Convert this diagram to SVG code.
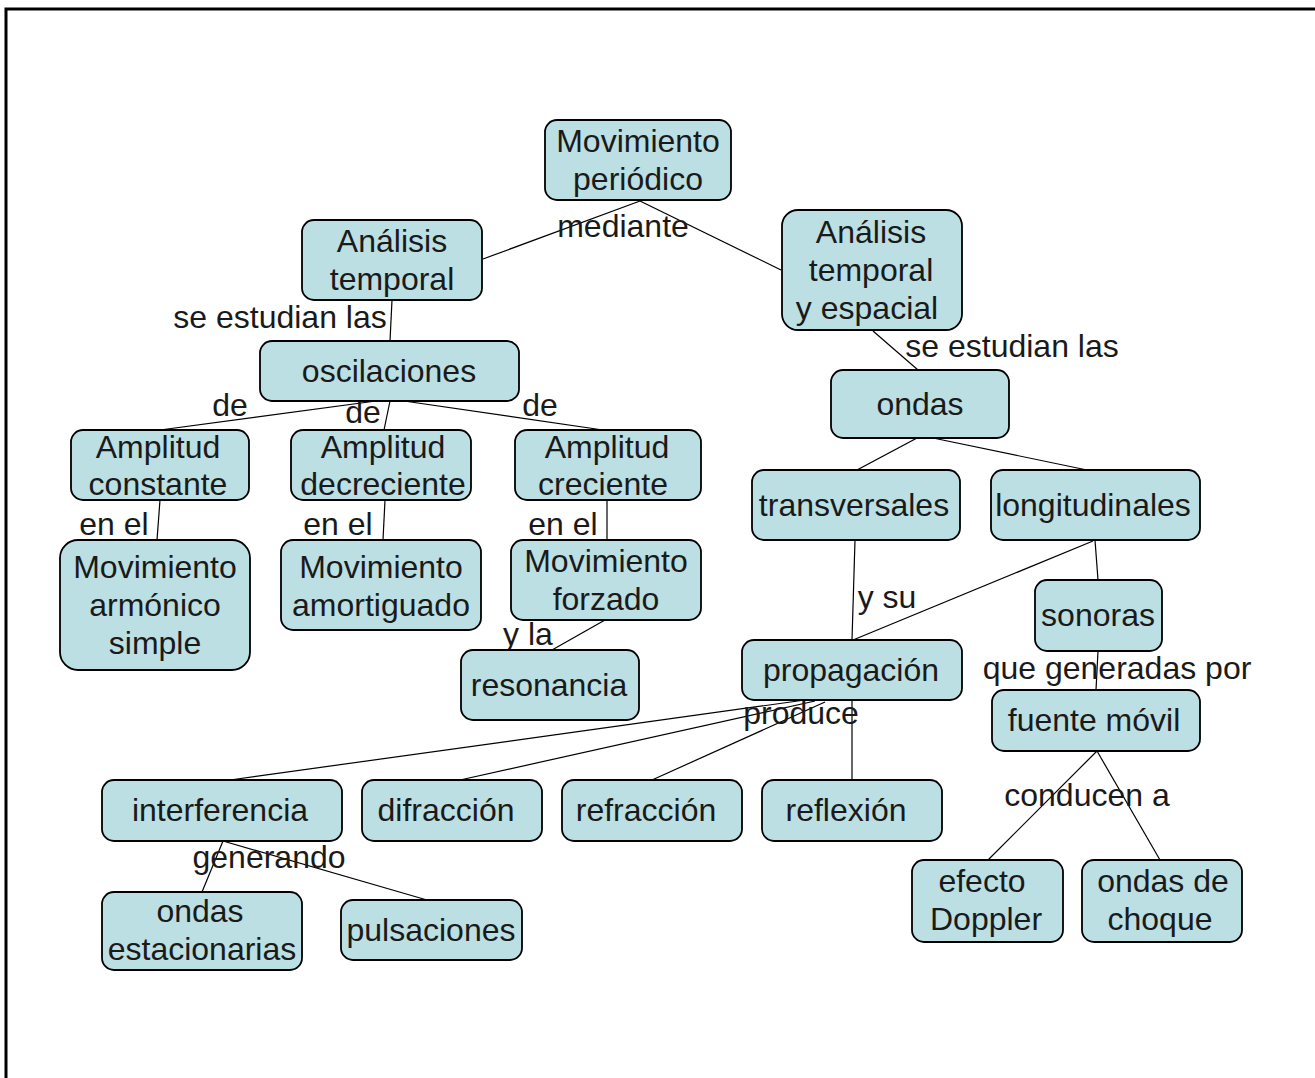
<svg xmlns="http://www.w3.org/2000/svg" width="1315" height="1078" viewBox="0 0 1315 1078">
<style>
.n rect{fill:#bbdfe2;stroke:#000;stroke-width:1.8}
text{font-family:"Liberation Sans",Arial,sans-serif;font-size:32px;fill:#1a1a1a;text-anchor:middle}
#links line{stroke:#000;stroke-width:1.2}
</style>
<rect width="1315" height="1078" fill="#fff"/>
<path d="M6 1078 V9 H1315" fill="none" stroke="#000" stroke-width="3"/>
<g id="links">
<line x1="640" y1="201" x2="483" y2="259"/>
<line x1="640" y1="201" x2="781" y2="270"/>
<line x1="392" y1="300" x2="390" y2="341"/>
<line x1="873" y1="331" x2="918" y2="370"/>
<line x1="376" y1="401" x2="160" y2="430"/>
<line x1="390" y1="401" x2="384" y2="430"/>
<line x1="404" y1="401" x2="603" y2="430"/>
<line x1="160" y1="500" x2="157" y2="540"/>
<line x1="385" y1="500" x2="383" y2="540"/>
<line x1="607" y1="500" x2="607" y2="540"/>
<line x1="605" y1="620" x2="552" y2="650"/>
<line x1="917" y1="438" x2="857" y2="470"/>
<line x1="933" y1="438" x2="1087" y2="470"/>
<line x1="855" y1="540" x2="852" y2="640"/>
<line x1="1093" y1="541" x2="853" y2="640"/>
<line x1="1095" y1="540" x2="1098" y2="580"/>
<line x1="1098" y1="651" x2="1096" y2="690"/>
<line x1="1097" y1="751" x2="988" y2="860"/>
<line x1="1097" y1="751" x2="1160" y2="860"/>
<line x1="805" y1="700" x2="230" y2="780"/>
<line x1="815" y1="701" x2="460" y2="780"/>
<line x1="825" y1="702" x2="652" y2="780"/>
<line x1="852" y1="700" x2="852" y2="780"/>
<line x1="223" y1="841" x2="202" y2="892"/>
<line x1="223" y1="841" x2="427" y2="900"/>
</g>
<g id="labels">
<text x="623" y="237">mediante</text>
<text x="280" y="328">se estudian las</text>
<text x="1012" y="357">se estudian las</text>
<text x="230" y="416">de</text>
<text x="363" y="423">de</text>
<text x="540" y="416">de</text>
<text x="114" y="535">en el</text>
<text x="338" y="535">en el</text>
<text x="563" y="535">en el</text>
<text x="528" y="645">y la</text>
<text x="887" y="608">y su</text>
<text x="1117" y="679">que generadas por</text>
<text x="801" y="724">produce</text>
<text x="1087" y="806">conducen a</text>
<text x="269" y="868">generando</text>
</g>
<g id="n1" class="n"><rect x="545" y="120" width="186" height="80" rx="12"/><text x="638" y="152">Movimiento</text><text x="638" y="190">periódico</text></g>
<g id="n2" class="n"><rect x="302" y="220" width="180" height="80" rx="12"/><text x="392" y="252">Análisis</text><text x="392" y="290">temporal</text></g>
<g id="n3" class="n"><rect x="782" y="210" width="180" height="120" rx="16"/><text x="871" y="243">Análisis</text><text x="871" y="281">temporal</text><text x="867" y="319">y espacial</text></g>
<g id="n4" class="n"><rect x="260" y="341" width="259" height="60" rx="12"/><text x="389" y="382">oscilaciones</text></g>
<g id="n5" class="n"><rect x="831" y="370" width="178" height="68" rx="12"/><text x="920" y="415">ondas</text></g>
<g id="n6" class="n"><rect x="71" y="430" width="178" height="70" rx="12"/><text x="158" y="458">Amplitud</text><text x="158" y="495">constante</text></g>
<g id="n7" class="n"><rect x="291" y="430" width="180" height="70" rx="12"/><text x="383" y="458">Amplitud</text><text x="383" y="495">decreciente</text></g>
<g id="n8" class="n"><rect x="515" y="430" width="186" height="70" rx="12"/><text x="607" y="458">Amplitud</text><text x="603" y="495">creciente</text></g>
<g id="n9" class="n"><rect x="752" y="470" width="208" height="70" rx="12"/><text x="854" y="516">transversales</text></g>
<g id="n10" class="n"><rect x="991" y="470" width="209" height="70" rx="12"/><text x="1093" y="516">longitudinales</text></g>
<g id="n11" class="n"><rect x="60" y="540" width="190" height="130" rx="18"/><text x="155" y="578">Movimiento</text><text x="155" y="616">armónico</text><text x="155" y="654">simple</text></g>
<g id="n12" class="n"><rect x="281" y="540" width="200" height="90" rx="12"/><text x="381" y="578">Movimiento</text><text x="381" y="616">amortiguado</text></g>
<g id="n13" class="n"><rect x="511" y="540" width="190" height="80" rx="12"/><text x="606" y="572">Movimiento</text><text x="606" y="610">forzado</text></g>
<g id="n14" class="n"><rect x="1035" y="580" width="127" height="71" rx="12"/><text x="1098" y="626">sonoras</text></g>
<g id="n15" class="n"><rect x="461" y="650" width="178" height="70" rx="12"/><text x="549" y="696">resonancia</text></g>
<g id="n16" class="n"><rect x="742" y="640" width="220" height="60" rx="12"/><text x="851" y="681">propagación</text></g>
<g id="n17" class="n"><rect x="992" y="690" width="208" height="61" rx="12"/><text x="1094" y="731">fuente móvil</text></g>
<g id="n18" class="n"><rect x="102" y="780" width="240" height="61" rx="12"/><text x="220" y="821">interferencia</text></g>
<g id="n19" class="n"><rect x="362" y="780" width="180" height="61" rx="12"/><text x="446" y="821">difracción</text></g>
<g id="n20" class="n"><rect x="562" y="780" width="180" height="61" rx="12"/><text x="646" y="821">refracción</text></g>
<g id="n21" class="n"><rect x="762" y="780" width="180" height="61" rx="12"/><text x="846" y="821">reflexión</text></g>
<g id="n22" class="n"><rect x="102" y="892" width="200" height="78" rx="12"/><text x="200" y="922">ondas</text><text x="202" y="960">estacionarias</text></g>
<g id="n23" class="n"><rect x="341" y="900" width="181" height="60" rx="12"/><text x="431" y="941">pulsaciones</text></g>
<g id="n24" class="n"><rect x="912" y="860" width="151" height="82" rx="12"/><text x="982" y="892">efecto</text><text x="986" y="930">Doppler</text></g>
<g id="n25" class="n"><rect x="1082" y="860" width="160" height="82" rx="12"/><text x="1163" y="892">ondas de</text><text x="1160" y="930">choque</text></g>
</svg>
